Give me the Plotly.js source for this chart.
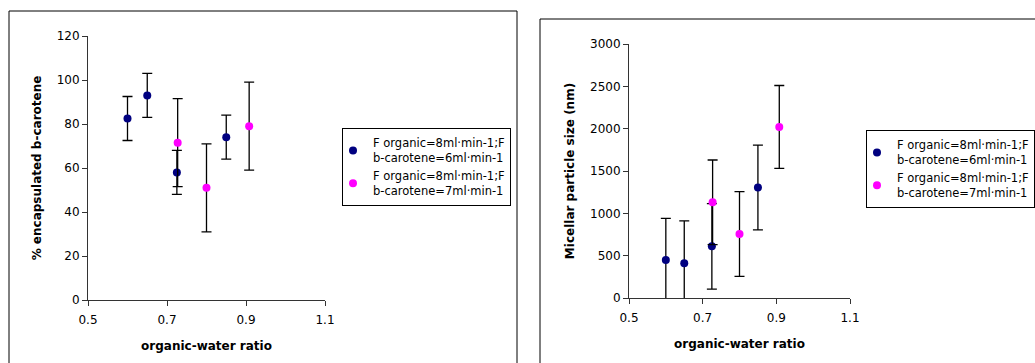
<!DOCTYPE html>
<html>
<head>
<meta charset="utf-8">
<script src="https://cdn.plot.ly/plotly-3.0.1.min.js"></script>
<style>
html,body{margin:0;padding:0;background:#fff;overflow:hidden;width:1035px;height:363px;}
#chart{position:absolute;left:0;top:0;width:1035px;height:363px;overflow:hidden;}
</style>
</head>
<body>
<div id="chart"></div>
<script>
// ---- data ----
const seriesNames = [
  "F organic=8ml·min-1;F<br>b-carotene=6ml·min-1",
  "F organic=8ml·min-1;F<br>b-carotene=7ml·min-1"
];
const xTickVals = [0.5, 0.7, 0.9, 1.1];
const xTickText = ["0.5", "0.7", "0.9", "1.1"];

// Left chart: % encapsulated b-carotene
const encX6 = [0.6, 0.65, 0.725, 0.85];
const encY6 = [82.5, 93, 58, 74];
const encErr6 = [10, 10, 10, 10];
const encX7 = [0.727, 0.8, 0.908];
const encY7 = [71.5, 51, 79];
const encErr7 = [20, 20, 20];

// Right chart: micellar particle size (nm)
const sizeX6 = [0.6, 0.65, 0.725, 0.85];
const sizeY6 = [450, 410, 610, 1305];
const sizeErr6 = [490, 500, 505, 500];
const sizeX7 = [0.727, 0.8, 0.908];
const sizeY7 = [1130, 756, 2020];
const sizeErr7 = [500, 500, 490];

const colors = ["#000080", "#FF00FF"];
const W = 1035, H = 363;
const FONT = "DejaVu Sans, Arial, sans-serif";

function px(x){ return x / W; }
function py(y){ return 1 - y / H; }

function trace(x, y, err, i, xa, ya, leg){
  return {
    type: "scatter", mode: "markers",
    x: x, y: y, xaxis: xa, yaxis: ya,
    name: seriesNames[i],
    legend: leg,
    marker: {color: colors[i], size: 8},
    error_y: {type: "data", array: err, visible: true, color: "#000", thickness: 1.3, width: 5},
    cliponaxis: true
  };
}

const data = [
  trace(encX6, encY6, encErr6, 0, "x", "y", "legend"),
  trace(encX7, encY7, encErr7, 1, "x", "y", "legend"),
  trace(sizeX6, sizeY6, sizeErr6, 0, "x2", "y2", "legend2"),
  trace(sizeX7, sizeY7, sizeErr7, 1, "x2", "y2", "legend2")
];

const axBase = {
  showgrid: false, zeroline: false, showline: true,
  linecolor: "#333", linewidth: 1,
  ticks: "outside", ticklen: 5, tickcolor: "#333",
  tickfont: {family: FONT, size: 12, color: "#000"},
  fixedrange: true, automargin: false
};
const xBase = Object.assign({}, axBase, {
  range: [0.5, 1.1], tickmode: "array", tickvals: xTickVals, ticktext: xTickText,
  ticklabelstandoff: 4
});
const titleFont = {family: FONT, size: 12, color: "#000"};

const legBase = {
  xanchor: "left", yanchor: "top",
  bgcolor: "#fff", bordercolor: "#000", borderwidth: 1,
  font: {family: FONT, size: 11.5, color: "#000"},
  itemwidth: 30, indentation: -10
};

const layout = {
  width: W, height: H,
  margin: {l: 0, r: 0, t: 0, b: 0, autoexpand: false},
  paper_bgcolor: "#fff", plot_bgcolor: "#fff",
  showlegend: true,
  xaxis: Object.assign({}, xBase, {
    domain: [px(88), px(325)], anchor: "y",
    title: {text: "<b>organic-water ratio</b>", font: titleFont, standoff: 15}
  }),
  yaxis: Object.assign({}, axBase, {
    domain: [py(300), py(36)], anchor: "x",
    range: [0, 120], dtick: 20,
    title: {text: "<b>% encapsulated b-carotene</b>", font: titleFont, standoff: 12}
  }),
  xaxis2: Object.assign({}, xBase, {
    domain: [px(629), px(850)], anchor: "y2",
    title: {text: "<b>organic-water ratio</b>", font: titleFont, standoff: 15}
  }),
  yaxis2: Object.assign({}, axBase, {
    domain: [py(298), py(44)], anchor: "x2",
    range: [0, 3000], dtick: 500,
    title: {text: "<b>Micellar particle size (nm)</b>", font: titleFont, standoff: 12}
  }),
  legend: Object.assign({}, legBase, {x: px(342), y: py(128)}),
  legend2: Object.assign({}, legBase, {x: px(866), y: py(130)}),
  shapes: [
    {type: "rect", xref: "paper", yref: "paper", x0: px(9), x1: px(517), y0: -0.2, y1: py(11),
     line: {color: "#000", width: 1}, fillcolor: "rgba(0,0,0,0)", layer: "below"},
    {type: "rect", xref: "paper", yref: "paper", x0: px(540), x1: 1.2, y0: -0.2, y1: py(19),
     line: {color: "#000", width: 1}, fillcolor: "rgba(0,0,0,0)", layer: "below"}
  ]
};

Plotly.newPlot("chart", data, layout, {displayModeBar: false, staticPlot: true});
</script>
</body>
</html>
